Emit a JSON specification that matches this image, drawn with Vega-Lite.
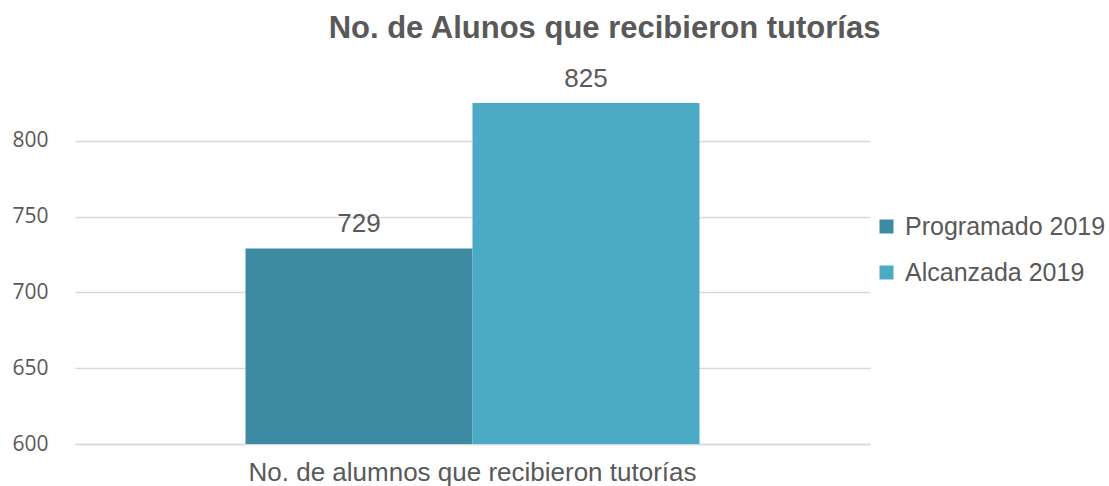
{
  "$schema": "https://vega.github.io/schema/vega-lite/v6.json",
  "width": 795,
  "height": 379,
  "autosize": {"type": "none"},
  "padding": {"left": 75, "top": 65, "right": 239, "bottom": 42},
  "background": "white",
  "title": {
    "text": "No. de Alunos que recibieron tutorías",
    "font": "Liberation Sans",
    "fontSize": 31,
    "fontWeight": "bold",
    "color": "#595959",
    "anchor": "middle",
    "dx": 132,
    "offset": 20
  },
  "data": {
    "values": [
      {"categoria": "No. de alumnos que recibieron tutorías", "serie": "Programado 2019", "valor": 729},
      {"categoria": "No. de alumnos que recibieron tutorías", "serie": "Alcanzada 2019", "valor": 825}
    ]
  },
  "encoding": {
    "x": {
      "field": "categoria",
      "type": "nominal",
      "scale": {"paddingInner": 0, "paddingOuter": 0.3756},
      "axis": {
        "title": null,
        "labelAngle": 0,
        "labelFont": "Liberation Sans",
        "labelFontSize": 26,
        "labelColor": "#595959",
        "labelPadding": 15,
        "labelLimit": 700,
        "ticks": false,
        "domain": true,
        "domainColor": "#d9d9d9",
        "domainWidth": 1.5
      }
    },
    "xOffset": {
      "field": "serie",
      "type": "nominal",
      "sort": ["Programado 2019", "Alcanzada 2019"],
      "scale": {"paddingInner": 0, "paddingOuter": 0}
    },
    "y": {
      "field": "valor",
      "type": "quantitative",
      "scale": {"domain": [600, 850], "nice": false, "zero": false},
      "axis": {
        "title": null,
        "values": [600, 650, 700, 750, 800],
        "labelFont": "Open Sans",
        "labelFontSize": 21,
        "labelColor": "#595959",
        "labelPadding": 27,
        "ticks": false,
        "domain": false,
        "grid": true,
        "gridColor": "#d9d9d9",
        "gridWidth": 1.5
      }
    }
  },
  "layer": [
    {
      "mark": {"type": "bar", "clip": true},
      "encoding": {
        "color": {
          "field": "serie",
          "type": "nominal",
          "sort": ["Programado 2019", "Alcanzada 2019"],
          "scale": {"domain": ["Programado 2019", "Alcanzada 2019"], "range": ["#3C8BA3", "#4BABC6"]},
          "legend": {
            "title": null,
            "orient": "none",
            "legendX": 799,
            "legendY": 149,
            "symbolType": "square",
            "symbolSize": 196,
            "symbolStrokeWidth": 0,
            "labelFont": "Liberation Sans",
            "labelFontSize": 25,
            "labelColor": "#595959",
            "labelOffset": 6,
            "rowPadding": 20,
            "labelLimit": 300
          }
        }
      }
    },
    {
      "mark": {"type": "text", "baseline": "alphabetic", "dy": -16, "font": "Liberation Sans", "fontSize": 26, "color": "#595959"},
      "encoding": {
        "text": {"field": "valor", "type": "quantitative"}
      }
    }
  ],
  "config": {"view": {"stroke": null}}
}
